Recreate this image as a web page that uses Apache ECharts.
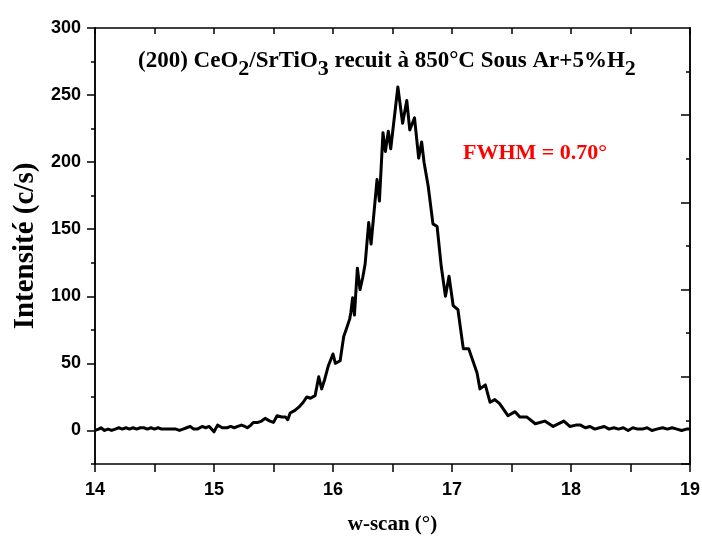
<!DOCTYPE html>
<html>
<head>
<meta charset="utf-8">
<script src="https://cdn.jsdelivr.net/npm/echarts@6/dist/echarts.min.js"></script>
<style>html,body{margin:0;padding:0;background:#fff;}#c{width:702px;height:536px;}</style>
</head>
<body>
<div id="c"></div>
<script>
const xs = [14.00,14.03,14.05,14.08,14.11,14.14,14.17,14.20,14.23,14.26,14.29,14.32,14.35,14.38,14.41,14.44,14.47,14.50,14.53,14.56,14.59,14.62,14.65,14.68,14.71,14.74,14.77,14.80,14.83,14.86,14.90,14.93,14.96,15.00,15.03,15.07,15.11,15.14,15.17,15.20,15.23,15.26,15.28,15.31,15.33,15.37,15.40,15.43,15.47,15.50,15.53,15.57,15.60,15.62,15.64,15.68,15.72,15.75,15.78,15.81,15.85,15.88,15.905,15.93,15.96,16.00,16.02,16.06,16.09,16.11,16.14,16.15,16.165,16.18,16.205,16.227,16.25,16.27,16.30,16.32,16.37,16.39,16.42,16.44,16.465,16.485,16.545,16.585,16.62,16.645,16.685,16.72,16.745,16.765,16.80,16.84,16.875,16.91,16.945,16.975,17.01,17.05,17.095,17.14,17.21,17.235,17.28,17.32,17.36,17.40,17.47,17.53,17.57,17.63,17.70,17.78,17.85,17.94,17.99,18.04,18.08,18.12,18.16,18.20,18.24,18.28,18.32,18.36,18.40,18.44,18.48,18.52,18.56,18.60,18.64,18.68,18.72,18.77,18.81,18.85,18.89,18.93,18.97,19.00];
const ys = [0,1,2,0,1,0,1,2,1,2,1,2,1,2,2,1,2,1,2,1,1,1,1,1,0,1,2,3,1,1,3,2,3,-1,4,2,2,3,2,3,4,3,2,4,6,6,7,9,7,6,11,10,10,8,13,15,18,21,25,24,26,40,31,38,48,57,50,52,70,75,83,88,99,86,121,105,114,124,155,139,187,171,222,208,223,210,256,229,246,224,233,203,215,200,182,154,152,122,100,115,93,90,61,61,43,31,34,21,23,20,11,14,10,10,5,7,3,7,3,4,4,2,3,1,2,3,1,2,1,2,0,2,1,1,2,0,1,2,1,2,1,0,1,1,0];
const xTicks = [14,14.5,15,15.5,16,16.5,17,17.5,18,18.5,19];
const yMajorTicks = [0,50,100,150,200,250,300];
const yMinorTicks = [-25,25,75,125,175,225,275];
const rightMajorTicks = [-25,40,105,170,235];
const rightMinorTicks = [7.5,72.5,137.5,202.5,267.5];

const lineCol = '#000';
const serif = '"Liberation Serif", "Times New Roman", serif';
const sans = '"Liberation Sans", Arial, sans-serif';

const chart = echarts.init(document.getElementById('c'), null, {renderer: 'canvas'});
const baseY = {
  type: 'value', min: -25, max: 300, splitLine: {show: false},
  axisLine: {show: true, lineStyle: {color: lineCol, width: 1.5}}
};
chart.setOption({
  animation: false,
  backgroundColor: '#fff',
  grid: {left: 95, right: 12, top: 28, bottom: 72, outerBoundsMode: 'none', containLabel: false},
  title: {
    text: '{a|(200) CeO}{s|2}{a|/SrTiO}{s|3}{a| recuit à 850°C Sous Ar+5%H}{s|2}',
    left: 133, top: 45,
    textStyle: {
      rich: {
        a: {fontFamily: serif, fontWeight: 'bold', fontSize: 23, color: '#000', lineHeight: 27, verticalAlign: 'top'},
        s: {fontFamily: serif, fontWeight: 'bold', fontSize: 22, color: '#000', lineHeight: 27, verticalAlign: 'top', padding: [8, 0, 0, 0]}
      }
    }
  },
  graphic: [{
    type: 'text', left: 463, top: 142,
    style: {text: 'FWHM = 0.70°', fill: '#ff0000', font: 'bold 22px ' + serif}
  }],
  xAxis: [{
    type: 'value', min: 14, max: 19, interval: 0.5, position: 'bottom',
    name: 'w-scan (°)', nameLocation: 'middle', nameGap: 50,
    nameTextStyle: {fontFamily: serif, fontWeight: 'bold', fontSize: 21, color: '#000'},
    splitLine: {show: false},
    axisLine: {show: true, onZero: false, lineStyle: {color: lineCol, width: 1.5}},
    axisTick: {show: true, inside: false, length: 8, lineStyle: {color: lineCol, width: 1.5}},
    axisLabel: {
      fontFamily: sans, fontWeight: 'bold', fontSize: 18, color: '#000', margin: 17,
      formatter: v => Number.isInteger(v) ? String(v) : ''
    }
  }, {
    type: 'value', min: 14, max: 19, interval: 0.5, position: 'top',
    splitLine: {show: false},
    axisLine: {show: true, onZero: false, lineStyle: {color: lineCol, width: 1.5}},
    axisTick: {show: true, inside: true, length: 6, lineStyle: {color: lineCol, width: 1.5}},
    axisLabel: {show: false}
  }],
  yAxis: [Object.assign({}, baseY, {
    position: 'left',
    name: 'Intensité (c/s)', nameLocation: 'middle', nameGap: 54,
    nameTextStyle: {fontFamily: serif, fontWeight: 'bold', fontSize: 29, color: '#000'},
    axisTick: {show: true, inside: false, length: 8, customValues: yMajorTicks, lineStyle: {color: lineCol, width: 1.5}},
    axisLabel: {customValues: yMajorTicks, fontFamily: sans, fontWeight: 'bold', fontSize: 18, color: '#000', margin: 14}
  }), Object.assign({}, baseY, {
    position: 'left',
    axisTick: {show: true, inside: false, length: 4, customValues: yMinorTicks, lineStyle: {color: lineCol, width: 1.5}},
    axisLabel: {show: false, customValues: yMinorTicks}
  }), Object.assign({}, baseY, {
    position: 'right',
    axisTick: {show: true, inside: true, length: 9, customValues: rightMajorTicks, lineStyle: {color: lineCol, width: 1.5}},
    axisLabel: {show: false, customValues: rightMajorTicks}
  }), Object.assign({}, baseY, {
    position: 'right',
    axisTick: {show: true, inside: true, length: 4, customValues: rightMinorTicks, lineStyle: {color: lineCol, width: 1.5}},
    axisLabel: {show: false, customValues: rightMinorTicks}
  })],
  series: [{
    type: 'line', xAxisIndex: 0, yAxisIndex: 0,
    data: xs.map((x, i) => [x, ys[i]]),
    showSymbol: false, symbol: 'none',
    lineStyle: {color: '#000', width: 3, join: 'round'},
    z: 5
  }]
});
</script>
</body>
</html>
